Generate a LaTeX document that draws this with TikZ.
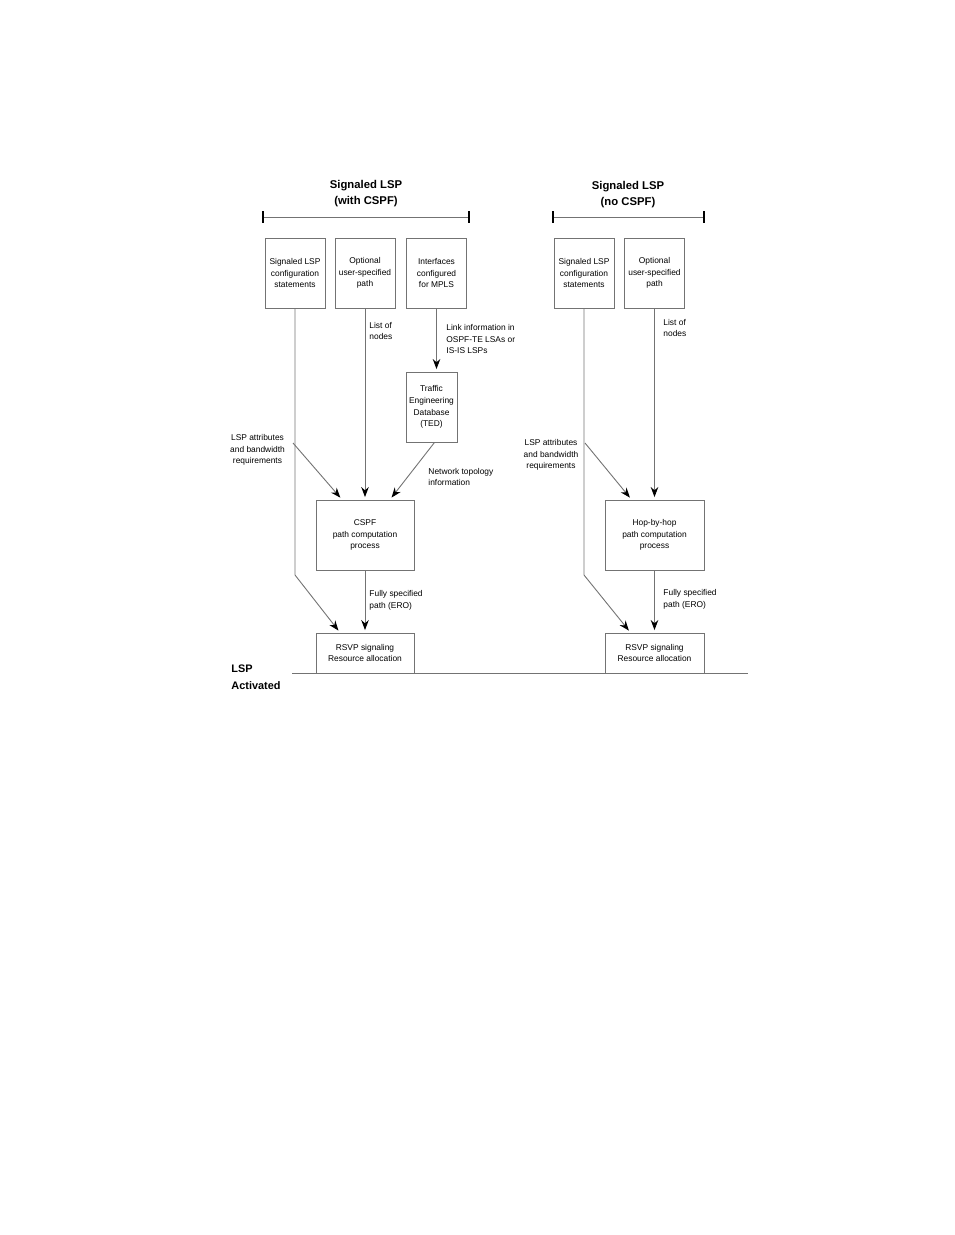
\documentclass[tikz,border=0pt]{standalone}
\usepackage{fontspec}
\setmainfont{Liberation Sans}
\usetikzlibrary{arrows.meta}
\newcommand{\smalltxt}{\fontsize{8.4}{11.8}\selectfont}
\newcommand{\headtxt}{\fontsize{11.3}{16}\selectfont\bfseries}

\begin{document}
\begin{tikzpicture}[x=1pt,y=-1pt,line width=0.9pt,
  box/.style={draw=black!55,minimum width=60pt,minimum height=70pt,inner sep=1pt,align=center,font=\smalltxt},
  lbl/.style={inner sep=0pt,font=\smalltxt},
  conn/.style={draw=black!55},
  arr/.style={conn,shorten >=2.5pt,-{Stealth[black,length=10pt,width=7.5pt]}}]
\useasboundingbox (0,0) rectangle (954,1235);
%%%%%%%%%%%%%%%%%%%% left column: signaled LSP with CSPF %%%%%%%%%%%%%%%%%%%%
\node[font=\headtxt,align=center,inner sep=0pt] (titleL) at (366,193.5) {Signaled LSP\\(with CSPF)};
\draw[conn] (263,217) -- (469,217);
\draw[black,line width=1.2pt] (263,211) -- (263,223);
\draw[black,line width=1.2pt] (469,211) -- (469,223);
\node[box] (cfgL)  at (295,273)   {Signaled LSP\\configuration\\statements};
\node[box] (pathL) at (365,273)   {Optional\\user-specified\\path};
\node[box] (ifL)   at (436.5,273) {Interfaces\\configured\\for MPLS};
\node[box,minimum width=51pt] (ted) at (431.5,407) {Traffic\\Engineering\\Database\\(TED)};
\node[box,minimum width=98pt] (cspf) at (365,535) {CSPF\\path computation\\process};
\node[box,minimum width=98pt,minimum height=40pt] (rsvpL) at (365,653) {RSVP signaling\\Resource allocation};
\node[lbl,anchor=west,align=left]   (nodesL) at (369,331) {List of\\nodes};
\node[lbl,anchor=west,align=left]   (linkL)  at (446,339) {Link information in\\OSPF-TE LSAs or\\IS-IS LSPs};
\node[lbl,anchor=west,align=left]   (topoL)  at (428,477) {Network topology\\information};
\node[lbl,align=center]             (attrL)  at (257.5,450) {LSP attributes\\and bandwidth\\requirements};
\node[lbl,anchor=west,align=left]   (eroL)   at (369,600) {Fully specified\\path (ERO)};
\coordinate (bendL) at (295,575);
\coordinate (attrLs) at (293,443);
\draw[arr] (cfgL.south) -- (bendL) -- ([xshift=-25pt]rsvpL.north);
\draw[arr] (pathL.south) -- (cspf.north);
\draw[arr] (ifL.south) -- (ifL.south |- ted.north);
\draw[arr] ([xshift=3pt]ted.south) -- ([xshift=25pt]cspf.north);
\draw[arr] (attrLs) -- ([xshift=-23pt]cspf.north);
\draw[arr] (cspf.south) -- (rsvpL.north);
%%%%%%%%%%%%%%%%%%%% right column: signaled LSP without CSPF %%%%%%%%%%%%%%%%%%%%
\node[font=\headtxt,align=center,inner sep=0pt] (titleR) at (628,194.5) {Signaled LSP\\(no CSPF)};
\draw[conn] (553,217) -- (704,217);
\draw[black,line width=1.2pt] (553,211) -- (553,223);
\draw[black,line width=1.2pt] (704,211) -- (704,223);
\node[box] (cfgR)  at (584,273)   {Signaled LSP\\configuration\\statements};
\node[box] (pathR) at (654.5,273) {Optional\\user-specified\\path};
\node[box,minimum width=99pt] (hop) at (654.5,535) {Hop-by-hop\\path computation\\process};
\node[box,minimum width=99pt,minimum height=40pt] (rsvpR) at (654.5,653) {RSVP signaling\\Resource allocation};
\node[lbl,anchor=west,align=left] (nodesR) at (663,328) {List of\\nodes};
\node[lbl,align=center]           (attrR)  at (551,455) {LSP attributes\\and bandwidth\\requirements};
\node[lbl,anchor=west,align=left] (eroR)   at (663,599) {Fully specified\\path (ERO)};
\coordinate (bendR) at (584,575);
\coordinate (attrRs) at (585,443);
\draw[arr] (cfgR.south) -- (bendR) -- ([xshift=-24pt]rsvpR.north);
\draw[arr] (attrRs) -- ([xshift=-23pt]hop.north);
\draw[arr] (pathR.south) -- (hop.north);
\draw[arr] (hop.south) -- (rsvpR.north);
%%%%%%%%%%%%%%%%%%%% activation line %%%%%%%%%%%%%%%%%%%%
\draw[conn] (292,673) -- (748,673);
\node[font=\fontsize{10.9}{16.5}\selectfont\bfseries,anchor=west,align=left,inner sep=0pt] (act) at (231,677) {LSP\\Activated};
\end{tikzpicture}
\end{document}
